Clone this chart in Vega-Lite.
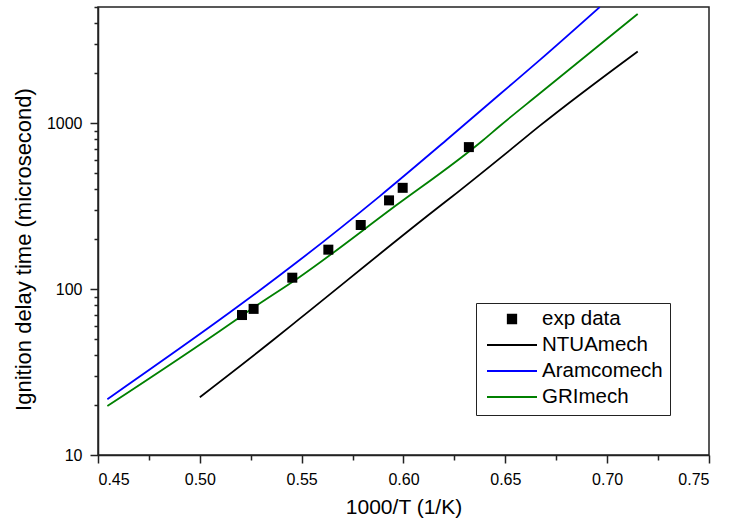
{
  "$schema": "https://vega.github.io/schema/vega-lite/v6.json",
  "width": 611,
  "height": 448,
  "autosize": {"type": "none"},
  "padding": {"left": 98, "top": 7, "right": 34, "bottom": 72},
  "background": "white",
  "config": {
    "font": "Liberation Sans",
    "view": {"stroke": "#222", "strokeWidth": 1.5},
    "axis": {"domainColor": "#222", "domainWidth": 1.5, "tickColor": "#222", "tickWidth": 1.5, "labelColor": "black", "titleColor": "black", "grid": false, "labelFont": "Liberation Sans", "titleFont": "Liberation Sans", "titleFontWeight": "normal"},
    "legend": {"title": null, "orient": "none", "legendX": 378, "legendY": 296,
               "strokeColor": "#222", "fillColor": "white", "padding": 7,
               "symbolSize": 2500, "clipHeight": 18, "rowPadding": 5, "symbolOffset": 3, "labelOffset": 4,
               "labelFontSize": 20.5, "labelFont": "Liberation Sans", "labelColor": "black", "labelLimit": 300,
               "symbolStrokeWidth": 1.8}
  },
  "datasets": {
    "curves": [
      {"x": 0.4546, "y": 21.7, "series": "Aramcomech"},
      {"x": 0.5148, "y": 72.4, "series": "Aramcomech"},
      {"x": 0.5285, "y": 96.3, "series": "Aramcomech"},
      {"x": 0.5492, "y": 150, "series": "Aramcomech"},
      {"x": 0.5884, "y": 363, "series": "Aramcomech"},
      {"x": 0.6211, "y": 790, "series": "Aramcomech"},
      {"x": 0.6473, "y": 1490, "series": "Aramcomech"},
      {"x": 0.667, "y": 2400, "series": "Aramcomech"},
      {"x": 0.6964, "y": 5000, "series": "Aramcomech"},
      {"x": 0.4546, "y": 19.7, "series": "GRImech"},
      {"x": 0.5148, "y": 61.5, "series": "GRImech"},
      {"x": 0.5246, "y": 74.7, "series": "GRImech"},
      {"x": 0.5492, "y": 118.6, "series": "GRImech"},
      {"x": 0.5933, "y": 299, "series": "GRImech"},
      {"x": 0.6392, "y": 790, "series": "GRImech"},
      {"x": 0.6473, "y": 960, "series": "GRImech"},
      {"x": 0.667, "y": 1510, "series": "GRImech"},
      {"x": 0.715, "y": 4540, "series": "GRImech"},
      {"x": 0.5, "y": 22.3, "series": "NTUAmech"},
      {"x": 0.536, "y": 49.3, "series": "NTUAmech"},
      {"x": 0.5492, "y": 66.5, "series": "NTUAmech"},
      {"x": 0.6154, "y": 299, "series": "NTUAmech"},
      {"x": 0.6228, "y": 352, "series": "NTUAmech"},
      {"x": 0.6523, "y": 687, "series": "NTUAmech"},
      {"x": 0.667, "y": 964, "series": "NTUAmech"},
      {"x": 0.715, "y": 2700, "series": "NTUAmech"}
    ],
    "exp": [
      {"x": 0.5207, "y": 69.7, "series": "exp data"},
      {"x": 0.5264, "y": 75.9, "series": "exp data"},
      {"x": 0.5454, "y": 117, "series": "exp data"},
      {"x": 0.5631, "y": 172.6, "series": "exp data"},
      {"x": 0.579, "y": 243, "series": "exp data"},
      {"x": 0.5929, "y": 342, "series": "exp data"},
      {"x": 0.5996, "y": 407, "series": "exp data"},
      {"x": 0.6321, "y": 716, "series": "exp data"}
    ]
  },
  "layer": [
    {
      "data": {"name": "curves"},
      "mark": {"type": "line", "clip": true, "strokeWidth": 1.8, "interpolate": "monotone"},
      "encoding": {
        "x": {"field": "x", "type": "quantitative", "scale": {"domain": [0.45, 0.75], "nice": false, "zero": false},
              "axis": {"orient": "bottom", "values": [0.475, 0.525, 0.575, 0.625, 0.675, 0.725], "labels": false, "domain": false, "tickSize": 5, "title": null}},
        "y": {"field": "y", "type": "quantitative", "scale": {"type": "log", "domain": [10, 5000], "nice": false},
              "axis": {"orient": "left", "values": [20, 30, 40, 50, 60, 70, 80, 90, 200, 300, 400, 500, 600, 700, 800, 900, 2000, 3000, 4000, 5000], "labels": false, "domain": false, "tickSize": 4, "title": null}},
        "color": {"field": "series", "type": "nominal",
                  "scale": {"domain": ["exp data", "NTUAmech", "Aramcomech", "GRImech"], "range": ["black", "black", "#0000ff", "#008000"]}}
      }
    },
    {
      "data": {"name": "exp"},
      "mark": {"type": "point", "filled": true, "size": 3460, "opacity": 1},
      "encoding": {
        "x": {"field": "x", "type": "quantitative",
              "axis": {"orient": "bottom", "values": [0.45, 0.5, 0.55, 0.6, 0.65, 0.7, 0.75], "format": ".2f", "tickSize": 8, "labelFontSize": 16, "labelPadding": 8, "title": "1000/T (1/K)", "titleFontSize": 21, "titlePadding": 9}},
        "y": {"field": "y", "type": "quantitative",
              "axis": {"orient": "left", "values": [10, 100, 1000], "format": "d", "tickSize": 8, "labelFontSize": 16, "labelPadding": 8, "title": "Ignition delay time (microsecond)", "titleFontSize": 22, "titlePadding": 11, "titleY": 242}},
        "color": {"field": "series", "type": "nominal",
                  "legend": {"encode": {"symbols": {"update": {"fill": {"signal": "datum.value === 'exp data' ? 'black' : 'transparent'"}, "stroke": {"scale": "color", "field": "value"}, "opacity": {"value": 1}}}}}},
        "shape": {"field": "series", "type": "nominal",
                  "scale": {"domain": ["exp data", "NTUAmech", "Aramcomech", "GRImech"], "range": ["M-0.17,-0.17H0.17V0.17H-0.17Z", "M-1,0H1", "M-1,0H1", "M-1,0H1"]},
                  "legend": {"encode": {"symbols": {"update": {"fill": {"signal": "datum.value === 'exp data' ? 'black' : 'transparent'"}, "stroke": {"scale": "color", "field": "value"}, "opacity": {"value": 1}}}}}}
      }
    }
  ],
  "resolve": {"axis": {"x": "independent", "y": "independent"}}
}
